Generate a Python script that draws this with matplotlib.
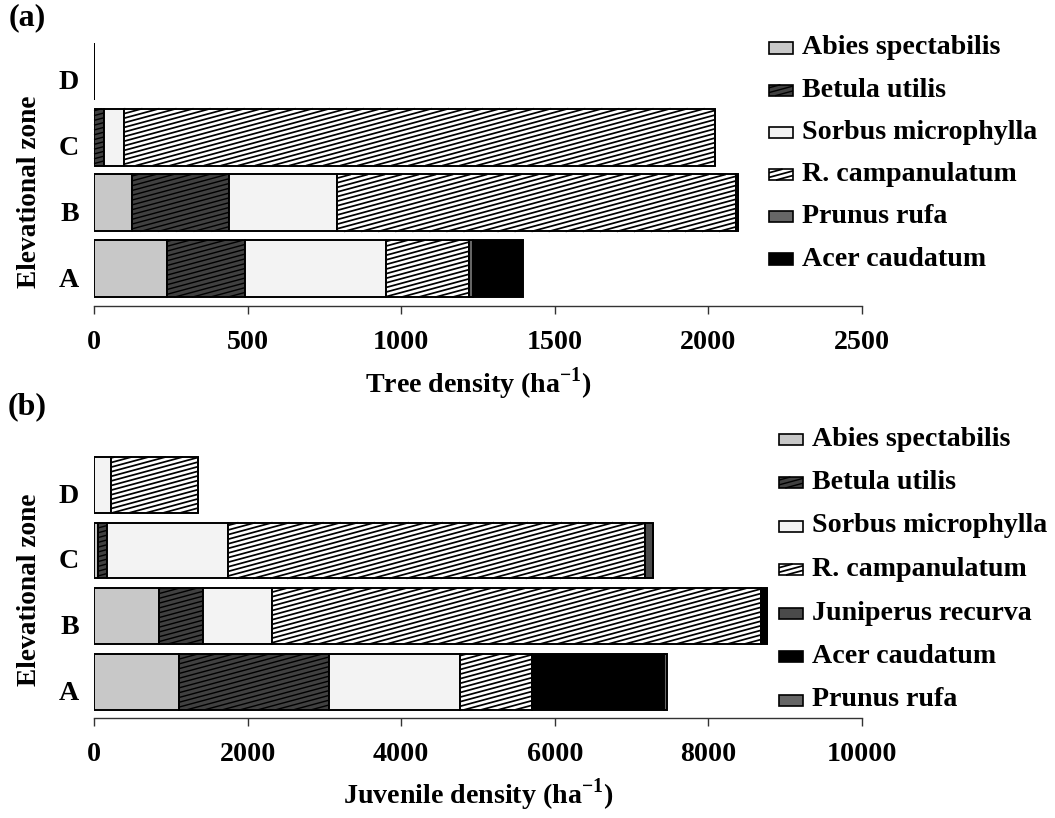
import matplotlib
matplotlib.use("Agg")
import matplotlib.pyplot as plt
from matplotlib.patches import Rectangle
from matplotlib.collections import LineCollection
from matplotlib.transforms import IdentityTransform, ScaledTranslation

# ---------------------------------------------------------------- data
zones = ["A", "B", "C", "D"]

# (a) tree density (ha-1) per species, zones A-D
tree_species = ["Abies spectabilis", "Betula utilis", "Sorbus microphylla",
                "R. campanulatum", "Prunus rufa", "Acer caudatum"]
tree_abies = [239, 125, 0, 0]
tree_betula = [253, 315, 33, 0]
tree_sorbus = [457, 350, 64, 0]
tree_rcamp = [272, 1300, 1924, 0]
tree_prunus = [14, 7, 0, 0]
tree_acer = [160, 0, 0, 0]

# (b) juvenile density (ha-1) per species, zones A-D
juv_species = ["Abies spectabilis", "Betula utilis", "Sorbus microphylla",
               "R. campanulatum", "Juniperus recurva", "Acer caudatum",
               "Prunus rufa"]
juv_abies = [1111, 842, 56, 0]
juv_betula = [1949, 577, 109, 0]
juv_sorbus = [1706, 903, 1576, 216]
juv_rcamp = [941, 6363, 5433, 1134]
juv_juniperus = [0, 0, 109, 0]
juv_acer = [1715, 74, 0, 0]
juv_prunus = [35, 0, 0, 0]

tree_ticks = [0, 500, 1000, 1500, 2000, 2500]
juv_ticks = [0, 2000, 4000, 6000, 8000, 10000]

# ---------------------------------------------------------------- style
W, H, DPI = 1055, 818, 100
FONT = "Liberation Serif"
FS = 20.2
plt.rcParams["font.family"] = [FONT, "DejaVu Serif"]
plt.rcParams["font.weight"] = "bold"
plt.rcParams["mathtext.fontset"] = "custom"
plt.rcParams["mathtext.rm"] = FONT + ":bold"
plt.rcParams["mathtext.bf"] = FONT + ":bold"

# face colour, stripe style (None / "light" / "dark")
STYLE = {
    "Abies spectabilis": ("#c8c8c8", None),
    "Betula utilis": ("#404040", "dark"),
    "Sorbus microphylla": ("#f3f3f3", None),
    "R. campanulatum": ("#ffffff", "light"),
    "Juniperus recurva": ("#4a4a4a", None),
    "Acer caudatum": ("#000000", None),
    "Prunus rufa": ("#666666", None),
}
EDGE_LW = 1.4


def px(x, y):
    """pixel (from top-left) -> figure fraction"""
    return x / W, 1 - y / H


def stripes(patch, kind, parent, is_fig=False):
    """Shallow diagonal stripes, clipped analytically to a rectangle patch."""
    if kind is None:
        return
    bb = patch.get_extents()
    x0, y0, x1, y1 = bb.x0, bb.y0, bb.x1, bb.y1
    w = x1 - x0
    if w < 0.5:
        return
    slope = 0.27
    period = 4.6 if kind == "light" else 4.8
    segs = []
    k = y0 - slope * w - period
    while k < y1 + period:
        # line: y = k + slope * (x - x0)
        xa = x0 + (y0 - k) / slope
        xb = x0 + (y1 - k) / slope
        lo, hi = max(x0, xa), min(x1, xb)
        if hi > lo:
            segs.append([(lo, k + slope * (lo - x0)),
                         (hi, k + slope * (hi - x0))])
        k += period
    lc = LineCollection(segs, colors="black",
                        linewidths=1.25 if kind == "light" else 1.0,
                        transform=IdentityTransform())
    if is_fig:
        parent.add_artist(lc)
    else:
        lc.set_zorder(patch.get_zorder() + 0.1)
        parent.add_collection(lc, autolim=False)
        lc.set_clip_on(False)


def make_panel(rect_px, species, series, xmax, ticks, ylim_low, height, xlabel):
    left, top, right, bottom = rect_px
    ax = fig.add_axes([left / W, 1 - bottom / H, (right - left) / W,
                       (bottom - top) / H])
    ax.set_xlim(0, xmax)
    ax.set_ylim(ylim_low, 3.5)
    ypos = list(range(len(zones)))
    cum = [0.0] * len(zones)
    patches = []
    for name, vals in zip(species, series):
        fc, kind = STYLE[name]
        bars = ax.barh(ypos, vals, left=cum, height=height, color=fc,
                       edgecolor="black", linewidth=EDGE_LW, zorder=2)
        patches.append((bars, kind))
        cum = [c + v for c, v in zip(cum, vals)]
    for bars, kind in patches:
        for p in bars.patches:
            stripes(p, kind, ax)

    for s in ("top", "right", "left"):
        ax.spines[s].set_visible(False)
    ax.spines["bottom"].set_color("#333333")
    ax.spines["bottom"].set_linewidth(1.0)
    ax.set_xticks(ticks)
    ax.set_xticklabels([str(t) for t in ticks])
    ax.set_yticks(ypos)
    ax.set_yticklabels(zones)
    ax.tick_params(axis="x", direction="out", length=5.5, width=1.0,
                   color="#333333", pad=11.5, labelsize=FS)
    ax.tick_params(axis="y", length=0, pad=11, labelsize=FS)
    for lab in ax.get_yticklabels():
        lab.set_transform(lab.get_transform() +
                          ScaledTranslation(0, -6 / 72, fig.dpi_scale_trans))
    ax.set_xlabel(xlabel, fontsize=FS, fontweight="bold")
    ax.xaxis.set_label_coords(0.5, -0.29)
    ax.xaxis.label.set_va("center")
    ax.patch.set_visible(False)
    return ax


def legend(species, x_icon, y0, dy):
    for i, name in enumerate(species):
        fc, kind = STYLE[name]
        yc = y0 + i * dy
        fx, fy = px(x_icon, yc + 5.5)
        r = Rectangle((fx, fy), 24 / W, 11 / H, transform=fig.transFigure,
                      facecolor=fc, edgecolor="black", linewidth=1.2)
        fig.add_artist(r)
        stripes(r, kind, fig, is_fig=True)
        tx, ty = px(x_icon + 33, yc)
        fig.text(tx, ty, name, fontsize=FS, fontweight="bold", va="center",
                 ha="left")


fig = plt.figure(figsize=(W / DPI, H / DPI), dpi=DPI)
fig.patch.set_facecolor("white")

tree_series = [tree_abies, tree_betula, tree_sorbus, tree_rcamp,
               tree_prunus, tree_acer]
juv_series = [juv_abies, juv_betula, juv_sorbus, juv_rcamp,
              juv_juniperus, juv_acer, juv_prunus]

make_panel((94, 38.5, 862, 306), tree_species, tree_series, 2500,
           tree_ticks, -0.567, 0.867, r"Tree density (ha$^{-1}$)")
make_panel((94, 452, 862, 718), juv_species, juv_series, 10000,
           juv_ticks, -0.55, 0.85, r"Juvenile density (ha$^{-1}$)")

# panel tags and axis titles
fig.text(*px(27, 18), "(a)", fontsize=23, fontweight="bold",
         ha="center", va="center")
fig.text(*px(27, 407), "(b)", fontsize=23, fontweight="bold",
         ha="center", va="center")
fig.text(*px(30, 192), "Elevational zone", fontsize=FS - 0.5,
         fontweight="bold", rotation=90, ha="center", va="center")
fig.text(*px(30, 590), "Elevational zone", fontsize=FS - 0.5,
         fontweight="bold", rotation=90, ha="center", va="center")

legend(tree_species, 769, 48, 42.2)
legend(juv_species, 779, 439, 43.5)

fig.savefig("out.png", dpi=DPI, facecolor="white")
